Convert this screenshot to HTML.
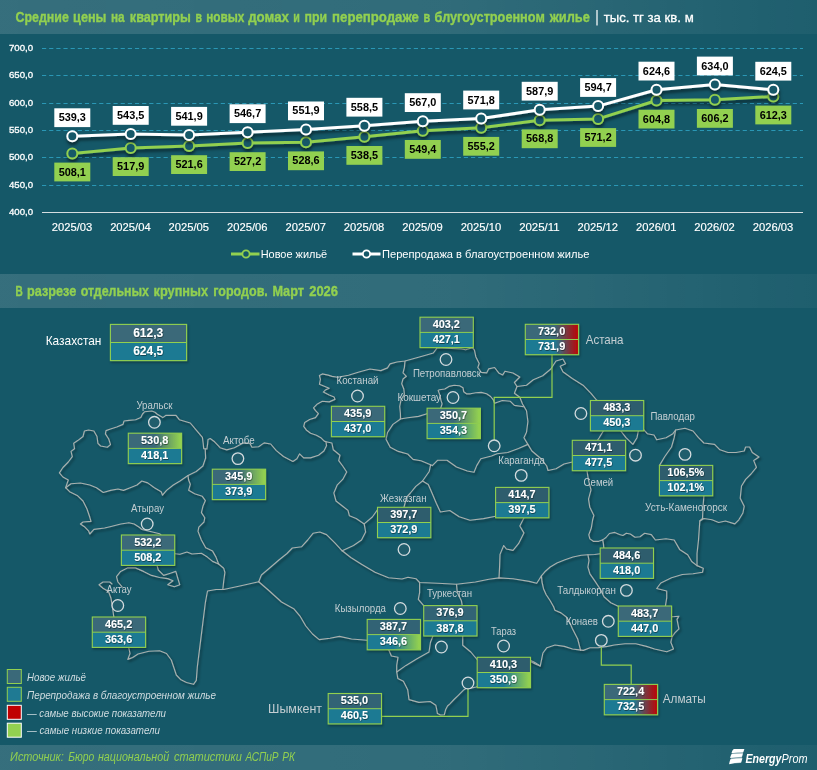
<!DOCTYPE html><html><head><meta charset="utf-8"><title>EnergyProm</title>
<style>html,body{margin:0;padding:0}body{width:817px;height:770px;overflow:hidden;background:#155868;font-family:"Liberation Sans",sans-serif}svg{display:block;will-change:transform}text{font-family:"Liberation Sans",sans-serif}</style>
</head><body>
<svg width="817" height="770" viewBox="0 0 817 770">
<defs>
<linearGradient id="hb" x1="0" x2="1" y1="0" y2="0"><stop offset="0" stop-color="#fff" stop-opacity="0.14"/><stop offset="0.55" stop-color="#fff" stop-opacity="0.12"/><stop offset="1" stop-color="#fff" stop-opacity="0.04"/></linearGradient>
<linearGradient id="gTopLD" x1="0" x2="1"><stop offset="0" stop-color="#3b6a7a"/><stop offset="1" stop-color="#2a5a6a"/></linearGradient>
<linearGradient id="gTopG" x1="0" x2="1"><stop offset="0" stop-color="#3a6979"/><stop offset="0.5" stop-color="#3a6979"/><stop offset="0.97" stop-color="#92d050"/></linearGradient>
<linearGradient id="gBotG" x1="0" x2="1"><stop offset="0" stop-color="#1f7a93"/><stop offset="0.5" stop-color="#1f7a93"/><stop offset="0.97" stop-color="#92d050"/></linearGradient>
<linearGradient id="gTopR" x1="0" x2="1"><stop offset="0" stop-color="#3a6979"/><stop offset="0.55" stop-color="#3a6979"/><stop offset="0.98" stop-color="#b80808"/></linearGradient>
<linearGradient id="gBotR" x1="0" x2="1"><stop offset="0" stop-color="#1f7a93"/><stop offset="0.55" stop-color="#1f7a93"/><stop offset="0.98" stop-color="#b80808"/></linearGradient>
<filter id="sh" x="-5%" y="-5%" width="110%" height="115%"><feDropShadow dx="1.5" dy="2" stdDeviation="1.2" flood-color="#000" flood-opacity="0.45"/></filter>
<filter id="shl" x="-5%" y="-20%" width="110%" height="150%"><feDropShadow dx="0.5" dy="3" stdDeviation="1.5" flood-color="#000" flood-opacity="0.5"/></filter>
<filter id="shb" x="-10%" y="-10%" width="125%" height="130%"><feDropShadow dx="1" dy="1.5" stdDeviation="1" flood-color="#000" flood-opacity="0.35"/></filter>
<filter id="tsh" x="-10%" y="-20%" width="120%" height="150%"><feDropShadow dx="0.5" dy="0.8" stdDeviation="0.5" flood-color="#000" flood-opacity="0.55"/></filter>
</defs>
<rect x="0" y="0" width="817" height="34" fill="url(#hb)"/>
<rect x="0" y="274" width="817" height="34" fill="url(#hb)"/>
<rect x="0" y="745" width="817" height="25" fill="url(#hb)"/>
<g font-size="14" font-weight="bold" font-style="normal" fill="#92d050" stroke="#92d050" stroke-width="0.35">
<text x="15.5" y="21.6" textLength="53.3" lengthAdjust="spacingAndGlyphs">Средние</text>
<text x="73.1" y="21.6" textLength="33.3" lengthAdjust="spacingAndGlyphs">цены</text>
<text x="110.9" y="21.6" textLength="13.7" lengthAdjust="spacingAndGlyphs">на</text>
<text x="129.8" y="21.6" textLength="61.1" lengthAdjust="spacingAndGlyphs">квартиры</text>
<text x="195.4" y="21.6" textLength="6.5" lengthAdjust="spacingAndGlyphs">в</text>
<text x="206.2" y="21.6" textLength="38.2" lengthAdjust="spacingAndGlyphs">новых</text>
<text x="248.2" y="21.6" textLength="40.8" lengthAdjust="spacingAndGlyphs">домах</text>
<text x="293.3" y="21.6" textLength="6.6" lengthAdjust="spacingAndGlyphs">и</text>
<text x="304.6" y="21.6" textLength="22.6" lengthAdjust="spacingAndGlyphs">при</text>
<text x="332.1" y="21.6" textLength="86.8" lengthAdjust="spacingAndGlyphs">перепродаже</text>
<text x="423.4" y="21.6" textLength="6.7" lengthAdjust="spacingAndGlyphs">в</text>
<text x="434.6" y="21.6" textLength="110.2" lengthAdjust="spacingAndGlyphs">блугоустроенном</text>
<text x="549.7" y="21.6" textLength="40.1" lengthAdjust="spacingAndGlyphs">жилье</text>
</g>
<rect x="596.3" y="10" width="1.4" height="15.5" fill="#e8eef0"/>
<text x="603.7" y="22" font-size="13.5" fill="#fff" stroke="#fff" stroke-width="0.3" textLength="90" lengthAdjust="spacingAndGlyphs">тыс. тг за кв. м</text>
<g font-size="14" font-weight="bold" font-style="normal" fill="#92d050" stroke="#92d050" stroke-width="0.35">
<text x="15.6" y="296.3" textLength="7.3" lengthAdjust="spacingAndGlyphs">В</text>
<text x="27.1" y="296.3" textLength="49.1" lengthAdjust="spacingAndGlyphs">разрезе</text>
<text x="80.7" y="296.3" textLength="68.3" lengthAdjust="spacingAndGlyphs">отдельных</text>
<text x="153.5" y="296.3" textLength="54.6" lengthAdjust="spacingAndGlyphs">крупных</text>
<text x="213.3" y="296.3" textLength="54.5" lengthAdjust="spacingAndGlyphs">городов.</text>
<text x="272.4" y="296.3" textLength="31.6" lengthAdjust="spacingAndGlyphs">Март</text>
<text x="309.2" y="296.3" textLength="28.8" lengthAdjust="spacingAndGlyphs">2026</text>
</g>
<line x1="42" x2="803" y1="48.5" y2="48.5" stroke="#2a97b5" stroke-width="1" stroke-dasharray="4.2 2.95"/>
<line x1="42" x2="803" y1="75.5" y2="75.5" stroke="#2a97b5" stroke-width="1" stroke-dasharray="4.2 2.95"/>
<line x1="42" x2="803" y1="103.5" y2="103.5" stroke="#2a97b5" stroke-width="1" stroke-dasharray="4.2 2.95"/>
<line x1="42" x2="803" y1="130.5" y2="130.5" stroke="#2a97b5" stroke-width="1" stroke-dasharray="4.2 2.95"/>
<line x1="42" x2="803" y1="157.5" y2="157.5" stroke="#2a97b5" stroke-width="1" stroke-dasharray="4.2 2.95"/>
<line x1="42" x2="803" y1="185.5" y2="185.5" stroke="#2a97b5" stroke-width="1" stroke-dasharray="4.2 2.95"/>
<line x1="42" x2="803" y1="212.5" y2="212.5" stroke="#d5dde0" stroke-width="1"/>
<text x="33.1" y="51.1" font-size="9.4" fill="#fff" stroke="#fff" stroke-width="0.3" text-anchor="end" textLength="24.2" lengthAdjust="spacingAndGlyphs">700,0</text>
<text x="33.1" y="78.1" font-size="9.4" fill="#fff" stroke="#fff" stroke-width="0.3" text-anchor="end" textLength="24.2" lengthAdjust="spacingAndGlyphs">650,0</text>
<text x="33.1" y="106.1" font-size="9.4" fill="#fff" stroke="#fff" stroke-width="0.3" text-anchor="end" textLength="24.2" lengthAdjust="spacingAndGlyphs">600,0</text>
<text x="33.1" y="133.1" font-size="9.4" fill="#fff" stroke="#fff" stroke-width="0.3" text-anchor="end" textLength="24.2" lengthAdjust="spacingAndGlyphs">550,0</text>
<text x="33.1" y="160.1" font-size="9.4" fill="#fff" stroke="#fff" stroke-width="0.3" text-anchor="end" textLength="24.2" lengthAdjust="spacingAndGlyphs">500,0</text>
<text x="33.1" y="188.1" font-size="9.4" fill="#fff" stroke="#fff" stroke-width="0.3" text-anchor="end" textLength="24.2" lengthAdjust="spacingAndGlyphs">450,0</text>
<text x="33.1" y="215.1" font-size="9.4" fill="#fff" stroke="#fff" stroke-width="0.3" text-anchor="end" textLength="24.2" lengthAdjust="spacingAndGlyphs">400,0</text>
<text x="72.0" y="231" font-size="10.7" fill="#fff" stroke="#fff" stroke-width="0.15" text-anchor="middle" textLength="40.5" lengthAdjust="spacingAndGlyphs">2025/03</text>
<text x="130.4" y="231" font-size="10.7" fill="#fff" stroke="#fff" stroke-width="0.15" text-anchor="middle" textLength="40.5" lengthAdjust="spacingAndGlyphs">2025/04</text>
<text x="188.8" y="231" font-size="10.7" fill="#fff" stroke="#fff" stroke-width="0.15" text-anchor="middle" textLength="40.5" lengthAdjust="spacingAndGlyphs">2025/05</text>
<text x="247.3" y="231" font-size="10.7" fill="#fff" stroke="#fff" stroke-width="0.15" text-anchor="middle" textLength="40.5" lengthAdjust="spacingAndGlyphs">2025/06</text>
<text x="305.7" y="231" font-size="10.7" fill="#fff" stroke="#fff" stroke-width="0.15" text-anchor="middle" textLength="40.5" lengthAdjust="spacingAndGlyphs">2025/07</text>
<text x="364.1" y="231" font-size="10.7" fill="#fff" stroke="#fff" stroke-width="0.15" text-anchor="middle" textLength="40.5" lengthAdjust="spacingAndGlyphs">2025/08</text>
<text x="422.5" y="231" font-size="10.7" fill="#fff" stroke="#fff" stroke-width="0.15" text-anchor="middle" textLength="40.5" lengthAdjust="spacingAndGlyphs">2025/09</text>
<text x="480.9" y="231" font-size="10.7" fill="#fff" stroke="#fff" stroke-width="0.15" text-anchor="middle" textLength="40.5" lengthAdjust="spacingAndGlyphs">2025/10</text>
<text x="539.4" y="231" font-size="10.7" fill="#fff" stroke="#fff" stroke-width="0.15" text-anchor="middle" textLength="40.5" lengthAdjust="spacingAndGlyphs">2025/11</text>
<text x="597.8" y="231" font-size="10.7" fill="#fff" stroke="#fff" stroke-width="0.15" text-anchor="middle" textLength="40.5" lengthAdjust="spacingAndGlyphs">2025/12</text>
<text x="656.2" y="231" font-size="10.7" fill="#fff" stroke="#fff" stroke-width="0.15" text-anchor="middle" textLength="40.5" lengthAdjust="spacingAndGlyphs">2026/01</text>
<text x="714.6" y="231" font-size="10.7" fill="#fff" stroke="#fff" stroke-width="0.15" text-anchor="middle" textLength="40.5" lengthAdjust="spacingAndGlyphs">2026/02</text>
<text x="773.0" y="231" font-size="10.7" fill="#fff" stroke="#fff" stroke-width="0.15" text-anchor="middle" textLength="40.5" lengthAdjust="spacingAndGlyphs">2026/03</text>
<g filter="url(#shl)">
<polyline points="72.3,153.4 130.7,148.0 189.1,146.0 247.6,143.0 306.0,142.2 364.4,136.8 422.8,130.8 481.2,127.7 539.7,120.2 598.1,118.9 656.5,100.5 714.9,99.8 773.3,96.4" fill="none" stroke="#92d050" stroke-width="3" stroke-linejoin="round" stroke-linecap="round"/>
<circle cx="72.3" cy="153.4" r="5" fill="#155868" stroke="#92d050" stroke-width="2"/>
<circle cx="130.7" cy="148.0" r="5" fill="#155868" stroke="#92d050" stroke-width="2"/>
<circle cx="189.1" cy="146.0" r="5" fill="#155868" stroke="#92d050" stroke-width="2"/>
<circle cx="247.6" cy="143.0" r="5" fill="#155868" stroke="#92d050" stroke-width="2"/>
<circle cx="306.0" cy="142.2" r="5" fill="#155868" stroke="#92d050" stroke-width="2"/>
<circle cx="364.4" cy="136.8" r="5" fill="#155868" stroke="#92d050" stroke-width="2"/>
<circle cx="422.8" cy="130.8" r="5" fill="#155868" stroke="#92d050" stroke-width="2"/>
<circle cx="481.2" cy="127.7" r="5" fill="#155868" stroke="#92d050" stroke-width="2"/>
<circle cx="539.7" cy="120.2" r="5" fill="#155868" stroke="#92d050" stroke-width="2"/>
<circle cx="598.1" cy="118.9" r="5" fill="#155868" stroke="#92d050" stroke-width="2"/>
<circle cx="656.5" cy="100.5" r="5" fill="#155868" stroke="#92d050" stroke-width="2"/>
<circle cx="714.9" cy="99.8" r="5" fill="#155868" stroke="#92d050" stroke-width="2"/>
<circle cx="773.3" cy="96.4" r="5" fill="#155868" stroke="#92d050" stroke-width="2"/>
</g>
<g filter="url(#shl)">
<polyline points="72.3,136.3 130.7,134.0 189.1,134.9 247.6,132.3 306.0,129.5 364.4,125.8 422.8,121.2 481.2,118.6 539.7,109.8 598.1,106.1 656.5,89.7 714.9,84.6 773.3,89.8" fill="none" stroke="#ffffff" stroke-width="3" stroke-linejoin="round" stroke-linecap="round"/>
<circle cx="72.3" cy="136.3" r="5" fill="#155868" stroke="#ffffff" stroke-width="2"/>
<circle cx="130.7" cy="134.0" r="5" fill="#155868" stroke="#ffffff" stroke-width="2"/>
<circle cx="189.1" cy="134.9" r="5" fill="#155868" stroke="#ffffff" stroke-width="2"/>
<circle cx="247.6" cy="132.3" r="5" fill="#155868" stroke="#ffffff" stroke-width="2"/>
<circle cx="306.0" cy="129.5" r="5" fill="#155868" stroke="#ffffff" stroke-width="2"/>
<circle cx="364.4" cy="125.8" r="5" fill="#155868" stroke="#ffffff" stroke-width="2"/>
<circle cx="422.8" cy="121.2" r="5" fill="#155868" stroke="#ffffff" stroke-width="2"/>
<circle cx="481.2" cy="118.6" r="5" fill="#155868" stroke="#ffffff" stroke-width="2"/>
<circle cx="539.7" cy="109.8" r="5" fill="#155868" stroke="#ffffff" stroke-width="2"/>
<circle cx="598.1" cy="106.1" r="5" fill="#155868" stroke="#ffffff" stroke-width="2"/>
<circle cx="656.5" cy="89.7" r="5" fill="#155868" stroke="#ffffff" stroke-width="2"/>
<circle cx="714.9" cy="84.6" r="5" fill="#155868" stroke="#ffffff" stroke-width="2"/>
<circle cx="773.3" cy="89.8" r="5" fill="#155868" stroke="#ffffff" stroke-width="2"/>
</g>
<rect x="54.3" y="108.3" width="36" height="18.8" fill="#ffffff"/>
<text x="72.3" y="121.2" font-size="10.9" font-weight="bold" fill="#000" text-anchor="middle">539,3</text>
<rect x="112.7" y="106.0" width="36" height="18.8" fill="#ffffff"/>
<text x="130.7" y="118.9" font-size="10.9" font-weight="bold" fill="#000" text-anchor="middle">543,5</text>
<rect x="171.1" y="106.9" width="36" height="18.8" fill="#ffffff"/>
<text x="189.1" y="119.8" font-size="10.9" font-weight="bold" fill="#000" text-anchor="middle">541,9</text>
<rect x="229.6" y="104.3" width="36" height="18.8" fill="#ffffff"/>
<text x="247.6" y="117.2" font-size="10.9" font-weight="bold" fill="#000" text-anchor="middle">546,7</text>
<rect x="288.0" y="101.5" width="36" height="18.8" fill="#ffffff"/>
<text x="306.0" y="114.4" font-size="10.9" font-weight="bold" fill="#000" text-anchor="middle">551,9</text>
<rect x="346.4" y="97.8" width="36" height="18.8" fill="#ffffff"/>
<text x="364.4" y="110.7" font-size="10.9" font-weight="bold" fill="#000" text-anchor="middle">558,5</text>
<rect x="404.8" y="93.2" width="36" height="18.8" fill="#ffffff"/>
<text x="422.8" y="106.1" font-size="10.9" font-weight="bold" fill="#000" text-anchor="middle">567,0</text>
<rect x="463.2" y="90.6" width="36" height="18.8" fill="#ffffff"/>
<text x="481.2" y="103.5" font-size="10.9" font-weight="bold" fill="#000" text-anchor="middle">571,8</text>
<rect x="521.7" y="81.8" width="36" height="18.8" fill="#ffffff"/>
<text x="539.7" y="94.7" font-size="10.9" font-weight="bold" fill="#000" text-anchor="middle">587,9</text>
<rect x="580.1" y="78.1" width="36" height="18.8" fill="#ffffff"/>
<text x="598.1" y="91.0" font-size="10.9" font-weight="bold" fill="#000" text-anchor="middle">594,7</text>
<rect x="638.5" y="61.7" width="36" height="18.8" fill="#ffffff"/>
<text x="656.5" y="74.6" font-size="10.9" font-weight="bold" fill="#000" text-anchor="middle">624,6</text>
<rect x="696.9" y="56.6" width="36" height="18.8" fill="#ffffff"/>
<text x="714.9" y="69.5" font-size="10.9" font-weight="bold" fill="#000" text-anchor="middle">634,0</text>
<rect x="755.3" y="61.8" width="36" height="18.8" fill="#ffffff"/>
<text x="773.3" y="74.7" font-size="10.9" font-weight="bold" fill="#000" text-anchor="middle">624,5</text>
<rect x="54.3" y="162.6" width="36" height="18.8" fill="#92d050"/>
<text x="72.3" y="175.5" font-size="10.9" font-weight="bold" fill="#000" text-anchor="middle">508,1</text>
<rect x="112.7" y="157.2" width="36" height="18.8" fill="#92d050"/>
<text x="130.7" y="170.1" font-size="10.9" font-weight="bold" fill="#000" text-anchor="middle">517,9</text>
<rect x="171.1" y="155.2" width="36" height="18.8" fill="#92d050"/>
<text x="189.1" y="168.1" font-size="10.9" font-weight="bold" fill="#000" text-anchor="middle">521,6</text>
<rect x="229.6" y="152.2" width="36" height="18.8" fill="#92d050"/>
<text x="247.6" y="165.1" font-size="10.9" font-weight="bold" fill="#000" text-anchor="middle">527,2</text>
<rect x="288.0" y="151.4" width="36" height="18.8" fill="#92d050"/>
<text x="306.0" y="164.3" font-size="10.9" font-weight="bold" fill="#000" text-anchor="middle">528,6</text>
<rect x="346.4" y="146.0" width="36" height="18.8" fill="#92d050"/>
<text x="364.4" y="158.9" font-size="10.9" font-weight="bold" fill="#000" text-anchor="middle">538,5</text>
<rect x="404.8" y="140.0" width="36" height="18.8" fill="#92d050"/>
<text x="422.8" y="152.9" font-size="10.9" font-weight="bold" fill="#000" text-anchor="middle">549,4</text>
<rect x="463.2" y="136.9" width="36" height="18.8" fill="#92d050"/>
<text x="481.2" y="149.8" font-size="10.9" font-weight="bold" fill="#000" text-anchor="middle">555,2</text>
<rect x="521.7" y="129.4" width="36" height="18.8" fill="#92d050"/>
<text x="539.7" y="142.3" font-size="10.9" font-weight="bold" fill="#000" text-anchor="middle">568,8</text>
<rect x="580.1" y="128.1" width="36" height="18.8" fill="#92d050"/>
<text x="598.1" y="141.0" font-size="10.9" font-weight="bold" fill="#000" text-anchor="middle">571,2</text>
<rect x="638.5" y="109.7" width="36" height="18.8" fill="#92d050"/>
<text x="656.5" y="122.6" font-size="10.9" font-weight="bold" fill="#000" text-anchor="middle">604,8</text>
<rect x="696.9" y="109.0" width="36" height="18.8" fill="#92d050"/>
<text x="714.9" y="121.9" font-size="10.9" font-weight="bold" fill="#000" text-anchor="middle">606,2</text>
<rect x="755.3" y="105.6" width="36" height="18.8" fill="#92d050"/>
<text x="773.3" y="118.5" font-size="10.9" font-weight="bold" fill="#000" text-anchor="middle">612,3</text>
<line x1="231" x2="259.5" y1="254" y2="254" stroke="#92d050" stroke-width="3"/><circle cx="246" cy="254" r="3.6" fill="#155868" stroke="#92d050" stroke-width="1.8"/>
<text x="260.7" y="258" font-size="10.8" fill="#fff" textLength="66.5" lengthAdjust="spacingAndGlyphs">Новое жильё</text>
<line x1="352.5" x2="380.5" y1="254" y2="254" stroke="#fff" stroke-width="3"/><circle cx="366.5" cy="254" r="3.6" fill="#155868" stroke="#fff" stroke-width="1.8"/>
<text x="382" y="258" font-size="10.8" fill="#fff" textLength="207.5" lengthAdjust="spacingAndGlyphs">Перепродажа в благоустроенном жилье</text>
<g filter="url(#sh)" fill="none" stroke="#a9b1af" stroke-width="1.15" stroke-linejoin="round" stroke-linecap="round">
<polyline points="65.6,487.7 67.0,483.7 68.3,480.0 62.9,477.0 59.4,472.9 62.9,467.5 68.3,462.0 72.3,456.7 71.0,451.4 74.5,448.7 73.7,443.3 77.7,440.6 83.0,436.5 84.4,431.0 88.5,430.0 93.9,431.0 97.0,436.5 97.9,443.3 100.6,446.0 107.3,447.3 110.5,444.6 108.7,439.0 105.4,433.9 106.0,430.6 110.5,429.0 116.7,427.0 123.0,424.4 124.0,421.0 128.9,420.4 135.6,419.8 140.8,417.5 142.5,414.0 144.5,411.8 151.8,411.0 155.0,412.2 157.3,414.2 162.8,417.6 166.0,415.3 176.0,415.3 179.3,419.7 190.3,423.0 196.9,430.8 202.4,437.4 203.2,443.5 203.7,448.6 206.9,449.0 207.6,444.0 208.0,439.6 210.2,438.5 214.6,441.8 220.1,447.7 226.7,449.9 234.4,447.7 243.2,442.9 249.8,443.3 252.0,447.3 258.6,446.8 264.1,442.9 270.7,444.0 276.3,450.6 283.5,456.5 292.9,461.4 296.9,458.7 299.6,453.8 303.7,457.9 310.4,457.9 318.5,455.2 323.9,451.0 326.5,445.8 326.0,441.7 324.3,441.1 321.3,438.1 316.4,435.2 310.6,433.2 306.6,430.3 303.7,426.4 304.7,422.5 309.6,419.5 315.5,417.6 318.4,413.6 315.5,410.7 313.5,407.8 317.4,403.9 322.3,401.3 329.2,401.9 335.0,399.4 334.1,397.0 329.2,395.0 323.3,392.1 325.3,390.1 329.2,388.2 324.3,386.2 319.4,384.3 320.4,379.4 319.4,375.5 322.3,373.9 328.2,375.1 332.1,376.4 337.7,377.2 348.5,375.3 359.0,372.0 370.0,369.0 380.8,370.6 387.5,367.9 390.0,363.9 396.9,362.0 405.0,361.0 415.8,358.0 426.5,355.0 433.3,353.0 437.3,347.7 461.5,349.0 465.6,349.8 472.3,347.7 474.4,350.0 475.8,356.7 479.2,363.5 477.8,367.5 481.2,372.4 486.6,372.9 488.6,368.9 494.6,367.5 498.7,372.9 502.7,374.9 505.0,371.2 513.0,373.0 519.8,377.0 514.4,382.5 517.0,386.5 526.5,385.2 533.3,379.8 542.7,375.8 550.8,369.0 556.0,361.0 562.9,359.0 565.6,363.7 560.2,366.3 562.9,371.7 572.3,378.5 583.0,385.2 591.0,393.3 596.5,400.0 643.7,429.6 647.3,433.7 654.0,435.0 656.7,439.8 666.0,437.7 672.9,433.7 675.6,430.0 685.0,428.3 693.0,431.0 698.5,437.7 703.9,443.0 714.6,444.4 720.0,449.8 728.0,452.5 736.0,452.5 744.2,451.0 745.6,447.0 749.6,447.0 752.3,452.5 759.0,457.0 753.7,460.6 756.4,467.3 751.0,474.0 745.6,479.4 741.5,486.0 740.2,498.3 744.2,506.3 742.9,513.0 738.8,519.8 734.8,523.9 725.4,521.0 718.7,522.5 712.0,519.8 703.9,518.5 699.8,521.0 698.5,540.0 697.0,553.5 697.0,565.6 703.3,568.3 702.5,572.3 693.0,573.7 682.3,574.5 671.5,577.7 660.8,583.0 656.7,588.5 666.7,591.0 666.7,597.9 665.4,606.0 672.0,616.7 678.9,616.2 677.0,619.4 678.9,628.9 674.8,632.9 672.0,636.9 670.8,642.3 673.5,649.0 666.7,651.7 654.6,649.0 646.5,646.4 635.8,643.7 625.0,643.7 614.2,645.0 607.5,646.4 598.0,647.7 590.0,647.7 583.3,650.4 579.2,649.9 572.5,649.0 564.4,646.4 555.0,645.0 546.9,647.7 542.9,653.0 541.5,659.8 540.2,666.0 534.8,662.5 530.8,660.6 500.0,680.0 476.0,687.0 470.8,688.3 468.2,686.9 464.0,689.7 458.3,695.3 454.0,699.5 449.9,703.8 447.5,706.0 445.7,709.4 444.3,714.8 440.5,715.0 437.4,713.6 436.8,710.0 435.8,705.2 430.2,701.5 418.9,702.4 409.0,699.6 407.7,689.7 403.4,681.3 397.8,678.4 396.7,672.0 396.7,665.4 398.0,657.3 391.4,656.0 388.7,649.8 367.0,640.2 351.5,639.0 339.4,636.4 330.0,638.3 319.2,639.6 312.5,634.0 305.8,626.0 300.4,616.7 293.7,608.7 281.5,602.0 268.0,589.8 258.7,581.7"/>
<polyline points="65.6,487.7 69.6,491.7 77.7,495.8 83.0,501.0 87.0,509.0 89.8,517.3 91.0,521.4 83.0,522.0 80.4,524.0 84.4,526.7 88.5,530.8 89.8,534.0 93.9,529.4 104.6,528.0 110.0,526.7 120.8,524.0 128.9,522.7 134.2,524.0 139.6,527.5 142.0,529.5 151.5,531.8 159.6,533.7 162.3,536.3 157.0,565.4 158.3,570.0 163.7,575.4 170.4,573.2 175.8,571.4 177.7,578.0 179.8,584.8 174.4,586.7 167.7,584.8 173.0,580.8 167.7,578.6 159.6,577.5 151.5,575.4 143.5,571.4 135.4,567.9 127.3,567.9 120.6,571.4 116.5,576.7 117.9,582.0 121.9,586.7"/>
<polyline points="112.0,584.0 109.8,582.0 103.0,582.0 99.0,584.8 103.0,588.3 108.5,591.5 111.0,598.3 112.5,607.7 113.8,617.0 128.7,647.5 130.0,653.5 127.8,659.4 132.7,657.5 138.0,654.0 148.9,651.3 159.6,650.8 166.5,653.5 171.3,660.0 174.0,668.0 176.3,675.0 181.0,679.8 186.5,682.5 193.5,684.3 196.3,680.4 197.3,667.0 200.0,645.4 202.7,623.9 205.4,602.3 207.5,591.0 216.0,589.5 223.7,589.5 241.0,585.8 258.7,581.7"/>
<polyline points="65.6,487.7 71.0,483.7 80.4,483.0 89.8,485.0 96.5,487.7 103.3,492.5 110.5,490.4 118.0,489.0 123.5,490.4 130.2,487.7 137.0,485.0 141.8,481.0 147.7,482.9 154.4,487.7 161.2,491.7 162.5,495.2 166.5,490.4 173.3,485.0 180.0,481.0 188.0,475.6"/>
<polyline points="205.2,449.0 205.6,458.0 202.9,466.0 196.2,471.5 188.0,475.6"/>
<polyline points="188.0,475.6 188.6,480.0 190.3,484.3 188.6,490.3 194.6,493.7 202.3,496.3 205.4,500.6 203.1,505.7 201.4,512.6 204.8,517.7 204.0,522.0 198.8,527.1 198.0,531.4 201.4,540.0 205.7,547.7 212.6,551.1 216.0,557.1 218.6,564.0 223.7,568.2 224.9,572.5 223.7,581.1 222.8,589.5"/>
<polyline points="175.0,553.8 180.0,554.3 186.9,552.0 192.0,554.0 201.4,553.3 207.4,557.1 212.6,561.4 218.6,564.0"/>
<polyline points="258.7,581.7 261.4,575.0 270.8,567.0 278.9,560.0 287.0,553.5 292.3,548.0 301.7,546.7 307.7,540.0 313.0,533.3 319.8,532.0 326.5,534.6 334.6,542.7 342.2,550.8"/>
<polyline points="326.0,441.7 331.9,443.0 333.3,449.8 340.0,455.2 338.7,460.6 342.7,466.0 346.7,472.0 342.7,479.4 337.3,484.8 333.8,492.9 336.0,501.0 342.7,506.3 348.0,510.4 349.4,515.8 356.2,518.5 364.2,523.9 365.6,532.0 361.5,540.0 353.5,545.4 342.2,550.8"/>
<polyline points="364.2,523.9 372.3,517.0 379.0,507.7"/>
<polyline points="342.2,550.8 350.8,557.5 361.5,564.2 375.0,572.3 388.5,577.7 402.0,579.0 408.0,577.3 416.0,578.7 419.6,582.5 437.7,583.2 456.5,584.3 475.4,582.0 488.9,579.2 499.0,577.9 513.0,578.7 529.2,581.4 536.7,583.3 538.8,580.0 541.4,575.9 544.8,571.8 550.2,567.0 556.9,563.0 565.0,559.7 573.0,557.0 581.2,555.3 587.9,554.7 594.6,554.5 600.0,553.7"/>
<polyline points="405.0,361.0 404.4,367.5 403.0,372.9 406.4,376.3 403.0,379.0 401.7,383.7 403.8,389.0 404.4,394.4 401.0,399.8 399.7,406.5 400.4,413.3 400.5,419.0 392.9,424.4 387.5,432.5 386.0,439.2 390.2,447.3 398.3,451.4 407.7,454.0 413.0,459.4 421.0,460.8 430.6,464.8 432.3,465.6 437.7,460.2 447.0,460.2 456.5,467.0 467.3,471.0 474.0,472.3 476.7,465.6 480.8,458.8 491.5,456.0 497.0,453.8 507.7,452.5 518.5,448.5 527.9,444.4"/>
<polyline points="400.0,419.0 407.7,417.7 418.5,416.4 427.0,413.7"/>
<polyline points="440.8,407.9 442.1,403.9 440.8,399.8 440.1,395.8 438.1,390.4 439.4,389.7 444.8,389.0 448.9,386.4 454.2,385.3 459.6,385.7 463.0,387.7 463.7,391.7 466.4,393.8 470.4,393.8 475.8,392.8 481.2,392.4 486.6,393.8 490.6,396.5 493.3,399.8 494.6,403.2 502.3,400.5 510.4,401.3 514.4,405.4 523.9,406.7"/>
<polyline points="517.0,386.5 514.4,393.3 519.8,397.3 522.5,404.0 526.5,410.8 527.9,421.5 526.5,432.3 523.9,437.7 527.9,444.4 531.9,451.0 541.4,459.0 546.7,466.0 548.0,470.5 556.0,468.7 564.0,464.0 572.3,462.0"/>
<polyline points="430.6,464.8 429.2,471.5 422.5,481.0 415.8,486.4 410.4,493.0 406.7,497.0 404.0,507.0"/>
<polyline points="422.5,481.0 428.3,484.4 432.3,493.8 436.3,503.3 440.4,512.0 449.8,510.5 459.2,516.7 470.0,520.2 483.5,518.6 495.6,516.2"/>
<polyline points="523.9,518.0 519.8,526.0 523.9,532.9 518.5,543.7 513.0,550.4 506.4,549.0 503.7,545.5 500.0,554.4 499.6,566.5 499.0,577.9"/>
<polyline points="603.3,431.0 599.2,437.7 597.0,441.0"/>
<polyline points="620.8,431.0 626.0,437.7 632.9,444.4 637.0,437.7 638.3,431.0"/>
<polyline points="587.0,471.0 588.5,480.4 591.0,489.8 588.5,499.2 589.8,507.3 593.9,515.4 592.6,520.0 591.3,528.0 588.8,534.8 589.9,538.9 593.3,541.3 598.7,541.3 602.7,539.9 606.0,537.5 609.4,533.5 614.8,532.4 619.5,534.5 622.9,535.5 626.3,533.2 630.3,534.0 635.0,537.2 640.0,536.8 644.6,533.3 651.3,534.6 655.4,540.0 666.0,538.7 674.2,540.0 679.6,549.4 687.7,554.8 691.7,561.5 697.0,565.6"/>
<polyline points="602.7,539.9 603.4,543.6 603.8,548.3"/>
<polyline points="675.6,430.0 674.2,437.7 671.5,447.0 664.8,456.5 659.5,465.4"/>
<polyline points="703.9,495.6 703.0,507.0 702.5,518.5 699.8,521.0"/>
<polyline points="541.4,575.9 542.0,582.0 543.5,588.7 546.2,594.7 550.2,600.8 553.6,606.8 554.9,610.2 561.0,612.9 566.4,617.0 569.5,622.0 572.3,628.5 577.7,639.0 580.6,650.4"/>
<polyline points="587.9,554.7 589.0,560.4 587.9,567.0 589.9,573.9 594.6,580.6 600.0,588.7 604.0,596.7 610.8,602.8 618.2,606.2"/>
<polyline points="419.6,582.5 419.6,592.7 418.3,599.4 423.7,605.6"/>
<polyline points="433.0,635.8 430.4,642.5 429.0,652.0 417.0,658.7 406.0,665.4 396.7,672.0"/>
<polyline points="456.5,584.3 457.3,592.7 461.4,600.8 462.2,605.6"/>
<polyline points="462.7,635.8 462.7,645.2 470.8,652.0 477.5,660.0"/>
<polyline points="530.6,661.4 535.4,664.0 540.2,666.0"/>
</g>
<g fill="none" stroke="#92d050" stroke-width="1.2">
<polyline points="552,354.7 552,397.3 494.2,397.3 494.2,440"/>
<polyline points="601.3,646.5 601.3,665.2 631.2,665.2 631.2,684.6"/>
<polyline points="468,689 468,716.3 381.5,716.3"/>
</g>
<circle cx="154.4" cy="422.3" r="5.8" fill="#205d6c" stroke="#d3dbde" stroke-width="1.3"/>
<circle cx="237.9" cy="458.6" r="5.8" fill="#205d6c" stroke="#d3dbde" stroke-width="1.3"/>
<circle cx="147.2" cy="524.0" r="5.8" fill="#205d6c" stroke="#d3dbde" stroke-width="1.3"/>
<circle cx="117.8" cy="605.5" r="5.8" fill="#205d6c" stroke="#d3dbde" stroke-width="1.3"/>
<circle cx="357.5" cy="396.0" r="5.8" fill="#205d6c" stroke="#d3dbde" stroke-width="1.3"/>
<circle cx="446.0" cy="359.5" r="5.8" fill="#205d6c" stroke="#d3dbde" stroke-width="1.3"/>
<circle cx="453.0" cy="397.5" r="5.8" fill="#205d6c" stroke="#d3dbde" stroke-width="1.3"/>
<circle cx="494.2" cy="445.8" r="5.8" fill="#205d6c" stroke="#d3dbde" stroke-width="1.3"/>
<circle cx="580.9" cy="413.5" r="5.8" fill="#205d6c" stroke="#d3dbde" stroke-width="1.3"/>
<circle cx="635.5" cy="455.2" r="5.8" fill="#205d6c" stroke="#d3dbde" stroke-width="1.3"/>
<circle cx="685.0" cy="454.4" r="5.8" fill="#205d6c" stroke="#d3dbde" stroke-width="1.3"/>
<circle cx="521.2" cy="475.4" r="5.8" fill="#205d6c" stroke="#d3dbde" stroke-width="1.3"/>
<circle cx="404.0" cy="549.5" r="5.8" fill="#205d6c" stroke="#d3dbde" stroke-width="1.3"/>
<circle cx="400.3" cy="608.5" r="5.8" fill="#205d6c" stroke="#d3dbde" stroke-width="1.3"/>
<circle cx="441.4" cy="647.0" r="5.8" fill="#205d6c" stroke="#d3dbde" stroke-width="1.3"/>
<circle cx="503.6" cy="646.0" r="5.8" fill="#205d6c" stroke="#d3dbde" stroke-width="1.3"/>
<circle cx="468.0" cy="683.0" r="5.8" fill="#205d6c" stroke="#d3dbde" stroke-width="1.3"/>
<circle cx="626.4" cy="590.4" r="5.8" fill="#205d6c" stroke="#d3dbde" stroke-width="1.3"/>
<circle cx="608.3" cy="621.3" r="5.8" fill="#205d6c" stroke="#d3dbde" stroke-width="1.3"/>
<circle cx="601.3" cy="640.4" r="5.8" fill="#205d6c" stroke="#d3dbde" stroke-width="1.3"/>
<text x="136.4" y="408.5" font-size="11" fill="#c4ced2" textLength="36.2" lengthAdjust="spacingAndGlyphs">Уральск</text>
<text x="223.0" y="443.5" font-size="11" fill="#c4ced2" textLength="31.6" lengthAdjust="spacingAndGlyphs">Актобе</text>
<text x="131.0" y="511.6" font-size="11" fill="#c4ced2" textLength="33.0" lengthAdjust="spacingAndGlyphs">Атырау</text>
<text x="106.5" y="592.5" font-size="11" fill="#c4ced2" textLength="25.0" lengthAdjust="spacingAndGlyphs">Актау</text>
<text x="336.5" y="384.0" font-size="11" fill="#c4ced2" textLength="42.0" lengthAdjust="spacingAndGlyphs">Костанай</text>
<text x="412.9" y="377.0" font-size="11" fill="#c4ced2" textLength="68.0" lengthAdjust="spacingAndGlyphs">Петропавловск</text>
<text x="397.5" y="400.5" font-size="11" fill="#c4ced2" textLength="43.5" lengthAdjust="spacingAndGlyphs">Кокшетау</text>
<text x="498.3" y="463.5" font-size="11" fill="#c4ced2" textLength="46.6" lengthAdjust="spacingAndGlyphs">Караганда</text>
<text x="380.0" y="501.6" font-size="11" fill="#c4ced2" textLength="46.5" lengthAdjust="spacingAndGlyphs">Жезказган</text>
<text x="650.4" y="419.5" font-size="11" fill="#c4ced2" textLength="44.5" lengthAdjust="spacingAndGlyphs">Павлодар</text>
<text x="583.6" y="485.5" font-size="11" fill="#c4ced2" textLength="29.6" lengthAdjust="spacingAndGlyphs">Семей</text>
<text x="645.0" y="510.5" font-size="11" fill="#c4ced2" textLength="82.0" lengthAdjust="spacingAndGlyphs">Усть-Каменогорск</text>
<text x="557.2" y="593.5" font-size="11" fill="#c4ced2" textLength="58.7" lengthAdjust="spacingAndGlyphs">Талдыкорган</text>
<text x="565.8" y="624.5" font-size="11" fill="#c4ced2" textLength="32.2" lengthAdjust="spacingAndGlyphs">Конаев</text>
<text x="427.0" y="597.0" font-size="11" fill="#c4ced2" textLength="45.0" lengthAdjust="spacingAndGlyphs">Туркестан</text>
<text x="334.8" y="611.5" font-size="11" fill="#c4ced2" textLength="51.2" lengthAdjust="spacingAndGlyphs">Кызылорда</text>
<text x="491.0" y="634.5" font-size="11" fill="#c4ced2" textLength="25.0" lengthAdjust="spacingAndGlyphs">Тараз</text>
<text x="45.7" y="344.9" font-size="12.6" fill="#fff" textLength="55.7" lengthAdjust="spacingAndGlyphs">Казахстан</text>
<text x="585.8" y="343.8" font-size="13" fill="#c4ced2" textLength="37.7" lengthAdjust="spacingAndGlyphs">Астана</text>
<text x="662.7" y="702.8" font-size="13" fill="#c4ced2" textLength="43.0" lengthAdjust="spacingAndGlyphs">Алматы</text>
<text x="268.0" y="713.0" font-size="13" fill="#c4ced2" textLength="54.0" lengthAdjust="spacingAndGlyphs">Шымкент</text>
<g filter="url(#shb)">
<rect x="110.4" y="324.4" width="76.2" height="18.1" fill="#3a6979"/>
<rect x="110.4" y="342.5" width="76.2" height="18.1" fill="#1f7a93"/>
<rect x="110.4" y="324.4" width="76.2" height="36.2" fill="none" stroke="#92d050" stroke-width="1.1"/>
<line x1="110.4" x2="186.6" y1="342.5" y2="342.5" stroke="#92d050" stroke-width="1"/>
</g>
<g filter="url(#tsh)" font-size="12" font-weight="bold" fill="#fff" text-anchor="middle">
<text x="148.2" y="337.0">612,3</text>
<text x="148.2" y="355.1">624,5</text>
</g>
<g filter="url(#shb)">
<rect x="128.3" y="433.2" width="53.3" height="15.2" fill="url(#gTopG)"/>
<rect x="128.3" y="448.4" width="53.3" height="15.2" fill="#1f7a93"/>
<rect x="128.3" y="433.2" width="53.3" height="30.4" fill="none" stroke="#92d050" stroke-width="1.1"/>
<line x1="128.3" x2="181.6" y1="448.4" y2="448.4" stroke="#92d050" stroke-width="1"/>
</g>
<g filter="url(#tsh)" font-size="10.9" font-weight="bold" fill="#fff" text-anchor="middle">
<text x="154.7" y="443.9">530,8</text>
<text x="154.7" y="459.1">418,1</text>
</g>
<g filter="url(#shb)">
<rect x="212.3" y="469.2" width="53.3" height="15.2" fill="url(#gTopG)"/>
<rect x="212.3" y="484.4" width="53.3" height="15.2" fill="#1f7a93"/>
<rect x="212.3" y="469.2" width="53.3" height="30.4" fill="none" stroke="#92d050" stroke-width="1.1"/>
<line x1="212.3" x2="265.6" y1="484.4" y2="484.4" stroke="#92d050" stroke-width="1"/>
</g>
<g filter="url(#tsh)" font-size="10.9" font-weight="bold" fill="#fff" text-anchor="middle">
<text x="238.7" y="479.9">345,9</text>
<text x="238.7" y="495.1">373,9</text>
</g>
<g filter="url(#shb)">
<rect x="121.4" y="535.0" width="53.3" height="15.2" fill="#3a6979"/>
<rect x="121.4" y="550.2" width="53.3" height="15.2" fill="#1f7a93"/>
<rect x="121.4" y="535.0" width="53.3" height="30.4" fill="none" stroke="#92d050" stroke-width="1.1"/>
<line x1="121.4" x2="174.7" y1="550.2" y2="550.2" stroke="#92d050" stroke-width="1"/>
</g>
<g filter="url(#tsh)" font-size="10.9" font-weight="bold" fill="#fff" text-anchor="middle">
<text x="147.8" y="545.7">532,2</text>
<text x="147.8" y="560.9">508,2</text>
</g>
<g filter="url(#shb)">
<rect x="92.3" y="617.0" width="53.3" height="15.2" fill="#3a6979"/>
<rect x="92.3" y="632.2" width="53.3" height="15.2" fill="#1f7a93"/>
<rect x="92.3" y="617.0" width="53.3" height="30.4" fill="none" stroke="#92d050" stroke-width="1.1"/>
<line x1="92.3" x2="145.6" y1="632.2" y2="632.2" stroke="#92d050" stroke-width="1"/>
</g>
<g filter="url(#tsh)" font-size="10.9" font-weight="bold" fill="#fff" text-anchor="middle">
<text x="118.6" y="627.7">465,2</text>
<text x="118.6" y="642.9">363,6</text>
</g>
<g filter="url(#shb)">
<rect x="331.4" y="406.3" width="53.3" height="15.2" fill="#3a6979"/>
<rect x="331.4" y="421.5" width="53.3" height="15.2" fill="#1f7a93"/>
<rect x="331.4" y="406.3" width="53.3" height="30.4" fill="none" stroke="#92d050" stroke-width="1.1"/>
<line x1="331.4" x2="384.7" y1="421.5" y2="421.5" stroke="#92d050" stroke-width="1"/>
</g>
<g filter="url(#tsh)" font-size="10.9" font-weight="bold" fill="#fff" text-anchor="middle">
<text x="357.7" y="417.0">435,9</text>
<text x="357.7" y="432.2">437,0</text>
</g>
<g filter="url(#shb)">
<rect x="420.0" y="317.2" width="53.3" height="15.2" fill="#3a6979"/>
<rect x="420.0" y="332.4" width="53.3" height="15.2" fill="#1f7a93"/>
<rect x="420.0" y="317.2" width="53.3" height="30.4" fill="none" stroke="#92d050" stroke-width="1.1"/>
<line x1="420.0" x2="473.3" y1="332.4" y2="332.4" stroke="#92d050" stroke-width="1"/>
</g>
<g filter="url(#tsh)" font-size="10.9" font-weight="bold" fill="#fff" text-anchor="middle">
<text x="446.3" y="327.9">403,2</text>
<text x="446.3" y="343.1">427,1</text>
</g>
<g filter="url(#shb)">
<rect x="427.1" y="408.2" width="53.3" height="15.2" fill="url(#gTopG)"/>
<rect x="427.1" y="423.4" width="53.3" height="15.2" fill="url(#gBotG)"/>
<rect x="427.1" y="408.2" width="53.3" height="30.4" fill="none" stroke="#92d050" stroke-width="1.1"/>
<line x1="427.1" x2="480.4" y1="423.4" y2="423.4" stroke="#92d050" stroke-width="1"/>
</g>
<g filter="url(#tsh)" font-size="10.9" font-weight="bold" fill="#fff" text-anchor="middle">
<text x="453.4" y="418.9">350,7</text>
<text x="453.4" y="434.1">354,3</text>
</g>
<g filter="url(#shb)">
<rect x="525.3" y="324.3" width="53.3" height="15.2" fill="url(#gTopR)"/>
<rect x="525.3" y="339.5" width="53.3" height="15.2" fill="url(#gBotR)"/>
<rect x="525.3" y="324.3" width="53.3" height="30.4" fill="none" stroke="#92d050" stroke-width="1.1"/>
<line x1="525.3" x2="578.6" y1="339.5" y2="339.5" stroke="#92d050" stroke-width="1"/>
</g>
<g filter="url(#tsh)" font-size="10.9" font-weight="bold" fill="#fff" text-anchor="middle">
<text x="551.6" y="335.0">732,0</text>
<text x="551.6" y="350.2">731,9</text>
</g>
<g filter="url(#shb)">
<rect x="590.4" y="400.5" width="53.3" height="15.2" fill="#2d5d6d"/>
<rect x="590.4" y="415.7" width="53.3" height="15.2" fill="#1f7a93"/>
<rect x="590.4" y="400.5" width="53.3" height="30.4" fill="none" stroke="#92d050" stroke-width="1.1"/>
<line x1="590.4" x2="643.7" y1="415.7" y2="415.7" stroke="#92d050" stroke-width="1"/>
</g>
<g filter="url(#tsh)" font-size="10.9" font-weight="bold" fill="#fff" text-anchor="middle">
<text x="616.8" y="411.2">483,3</text>
<text x="616.8" y="426.4">450,3</text>
</g>
<g filter="url(#shb)">
<rect x="572.3" y="440.3" width="53.3" height="15.2" fill="#2d5d6d"/>
<rect x="572.3" y="455.5" width="53.3" height="15.2" fill="#1f7a93"/>
<rect x="572.3" y="440.3" width="53.3" height="30.4" fill="none" stroke="#92d050" stroke-width="1.1"/>
<line x1="572.3" x2="625.6" y1="455.5" y2="455.5" stroke="#92d050" stroke-width="1"/>
</g>
<g filter="url(#tsh)" font-size="10.9" font-weight="bold" fill="#fff" text-anchor="middle">
<text x="598.6" y="451.0">471,1</text>
<text x="598.6" y="466.2">477,5</text>
</g>
<g filter="url(#shb)">
<rect x="659.4" y="465.4" width="53.3" height="15.2" fill="#2d5d6d"/>
<rect x="659.4" y="480.6" width="53.3" height="15.2" fill="#1f7a93"/>
<rect x="659.4" y="465.4" width="53.3" height="30.4" fill="none" stroke="#92d050" stroke-width="1.1"/>
<line x1="659.4" x2="712.7" y1="480.6" y2="480.6" stroke="#92d050" stroke-width="1"/>
</g>
<g filter="url(#tsh)" font-size="10.9" font-weight="bold" fill="#fff" text-anchor="middle">
<text x="685.8" y="476.1">106,5%</text>
<text x="685.8" y="491.3">102,1%</text>
</g>
<g filter="url(#shb)">
<rect x="495.6" y="487.4" width="53.3" height="15.2" fill="#2d5d6d"/>
<rect x="495.6" y="502.6" width="53.3" height="15.2" fill="#1f7a93"/>
<rect x="495.6" y="487.4" width="53.3" height="30.4" fill="none" stroke="#92d050" stroke-width="1.1"/>
<line x1="495.6" x2="548.9" y1="502.6" y2="502.6" stroke="#92d050" stroke-width="1"/>
</g>
<g filter="url(#tsh)" font-size="10.9" font-weight="bold" fill="#fff" text-anchor="middle">
<text x="522.0" y="498.1">414,7</text>
<text x="522.0" y="513.3">397,5</text>
</g>
<g filter="url(#shb)">
<rect x="377.5" y="507.3" width="53.3" height="15.2" fill="#2d5d6d"/>
<rect x="377.5" y="522.5" width="53.3" height="15.2" fill="#1f7a93"/>
<rect x="377.5" y="507.3" width="53.3" height="30.4" fill="none" stroke="#92d050" stroke-width="1.1"/>
<line x1="377.5" x2="430.8" y1="522.5" y2="522.5" stroke="#92d050" stroke-width="1"/>
</g>
<g filter="url(#tsh)" font-size="10.9" font-weight="bold" fill="#fff" text-anchor="middle">
<text x="403.8" y="518.0">397,7</text>
<text x="403.8" y="533.2">372,9</text>
</g>
<g filter="url(#shb)">
<rect x="600.2" y="548.0" width="53.3" height="15.2" fill="#2d5d6d"/>
<rect x="600.2" y="563.2" width="53.3" height="15.2" fill="#1f7a93"/>
<rect x="600.2" y="548.0" width="53.3" height="30.4" fill="none" stroke="#92d050" stroke-width="1.1"/>
<line x1="600.2" x2="653.5" y1="563.2" y2="563.2" stroke="#92d050" stroke-width="1"/>
</g>
<g filter="url(#tsh)" font-size="10.9" font-weight="bold" fill="#fff" text-anchor="middle">
<text x="626.6" y="558.7">484,6</text>
<text x="626.6" y="573.9">418,0</text>
</g>
<g filter="url(#shb)">
<rect x="618.3" y="606.0" width="53.3" height="15.2" fill="#3a6979"/>
<rect x="618.3" y="621.2" width="53.3" height="15.2" fill="#1f7a93"/>
<rect x="618.3" y="606.0" width="53.3" height="30.4" fill="none" stroke="#92d050" stroke-width="1.1"/>
<line x1="618.3" x2="671.6" y1="621.2" y2="621.2" stroke="#92d050" stroke-width="1"/>
</g>
<g filter="url(#tsh)" font-size="10.9" font-weight="bold" fill="#fff" text-anchor="middle">
<text x="644.6" y="616.7">483,7</text>
<text x="644.6" y="631.9">447,0</text>
</g>
<g filter="url(#shb)">
<rect x="604.3" y="684.4" width="53.3" height="15.2" fill="url(#gTopR)"/>
<rect x="604.3" y="699.6" width="53.3" height="15.2" fill="url(#gBotR)"/>
<rect x="604.3" y="684.4" width="53.3" height="30.4" fill="none" stroke="#92d050" stroke-width="1.1"/>
<line x1="604.3" x2="657.6" y1="699.6" y2="699.6" stroke="#92d050" stroke-width="1"/>
</g>
<g filter="url(#tsh)" font-size="10.9" font-weight="bold" fill="#fff" text-anchor="middle">
<text x="630.6" y="695.1">722,4</text>
<text x="630.6" y="710.3">732,5</text>
</g>
<g filter="url(#shb)">
<rect x="423.7" y="605.6" width="53.3" height="15.2" fill="#336474"/>
<rect x="423.7" y="620.8" width="53.3" height="15.2" fill="#1f7a93"/>
<rect x="423.7" y="605.6" width="53.3" height="30.4" fill="none" stroke="#92d050" stroke-width="1.1"/>
<line x1="423.7" x2="477.0" y1="620.8" y2="620.8" stroke="#92d050" stroke-width="1"/>
</g>
<g filter="url(#tsh)" font-size="10.9" font-weight="bold" fill="#fff" text-anchor="middle">
<text x="450.0" y="616.3">376,9</text>
<text x="450.0" y="631.5">387,8</text>
</g>
<g filter="url(#shb)">
<rect x="367.2" y="619.4" width="53.3" height="15.2" fill="#336474"/>
<rect x="367.2" y="634.6" width="53.3" height="15.2" fill="url(#gBotG)"/>
<rect x="367.2" y="619.4" width="53.3" height="30.4" fill="none" stroke="#92d050" stroke-width="1.1"/>
<line x1="367.2" x2="420.5" y1="634.6" y2="634.6" stroke="#92d050" stroke-width="1"/>
</g>
<g filter="url(#tsh)" font-size="10.9" font-weight="bold" fill="#fff" text-anchor="middle">
<text x="393.5" y="630.1">387,7</text>
<text x="393.5" y="645.3">346,6</text>
</g>
<g filter="url(#shb)">
<rect x="477.2" y="657.3" width="53.3" height="15.2" fill="#2d5d6d"/>
<rect x="477.2" y="672.5" width="53.3" height="15.2" fill="url(#gBotG)"/>
<rect x="477.2" y="657.3" width="53.3" height="30.4" fill="none" stroke="#92d050" stroke-width="1.1"/>
<line x1="477.2" x2="530.5" y1="672.5" y2="672.5" stroke="#92d050" stroke-width="1"/>
</g>
<g filter="url(#tsh)" font-size="10.9" font-weight="bold" fill="#fff" text-anchor="middle">
<text x="503.5" y="668.0">410,3</text>
<text x="503.5" y="683.2">350,9</text>
</g>
<g filter="url(#shb)">
<rect x="328.2" y="693.5" width="53.3" height="15.2" fill="#336474"/>
<rect x="328.2" y="708.7" width="53.3" height="15.2" fill="#1f7a93"/>
<rect x="328.2" y="693.5" width="53.3" height="30.4" fill="none" stroke="#92d050" stroke-width="1.1"/>
<line x1="328.2" x2="381.5" y1="708.7" y2="708.7" stroke="#92d050" stroke-width="1"/>
</g>
<g filter="url(#tsh)" font-size="10.9" font-weight="bold" fill="#fff" text-anchor="middle">
<text x="354.5" y="704.2">535,0</text>
<text x="354.5" y="719.4">460,5</text>
</g>
<rect x="7.3" y="669.5" width="14" height="14" fill="#3a6979" stroke="#92d050" stroke-width="1"/>
<text x="27" y="680.7" font-size="10.4" font-style="italic" fill="#d0dce0" textLength="59" lengthAdjust="spacingAndGlyphs">Новое жильё</text>
<rect x="7.3" y="687.3" width="14" height="14" fill="#1f7a93" stroke="#92d050" stroke-width="1"/>
<text x="27" y="698.5" font-size="10.4" font-style="italic" fill="#d0dce0" textLength="189" lengthAdjust="spacingAndGlyphs">Перепродажа в благоустроенном жилье</text>
<rect x="7.3" y="705.3" width="14" height="14" fill="#c00000" stroke="#fff" stroke-width="1"/>
<text x="27" y="716.5" font-size="10.4" font-style="italic" fill="#d0dce0" textLength="139" lengthAdjust="spacingAndGlyphs">— самые высокие показатели</text>
<rect x="7.3" y="723.2" width="14" height="14" fill="#92d050" stroke="#fff" stroke-width="1"/>
<text x="27" y="734.4" font-size="10.4" font-style="italic" fill="#d0dce0" textLength="133" lengthAdjust="spacingAndGlyphs">— самые низкие показатели</text>
<g font-size="12" font-weight="normal" font-style="italic" fill="#92d050">
<text x="10.1" y="761.2" textLength="53.7" lengthAdjust="spacingAndGlyphs">Источник:</text>
<text x="68.2" y="761.2" textLength="26.0" lengthAdjust="spacingAndGlyphs">Бюро</text>
<text x="97.9" y="761.2" textLength="71.3" lengthAdjust="spacingAndGlyphs">национальной</text>
<text x="173.9" y="761.2" textLength="68.0" lengthAdjust="spacingAndGlyphs">статистики</text>
<text x="245.5" y="761.2" textLength="33.1" lengthAdjust="spacingAndGlyphs">АСПиР</text>
<text x="282.3" y="761.2" textLength="12.8" lengthAdjust="spacingAndGlyphs">РК</text>
</g>
<g fill="#fff">
<path d="M733.4 749.6 L743.8 749.3 L740.8 763 L729.3 763.8 Z" opacity="0.45"/>
<path d="M733.9 749.1 Q734.4 749 735.2 749 L744.4 749 L743.2 752.3 Q737 752.3 731.4 753.2 Q732.2 750.2 733.9 749.1 Z"/>
<path d="M731.6 754.1 Q737 753.6 742.9 753.6 L741.9 756.8 Q735.5 757 730.1 758.1 Q730.6 755.5 731.6 754.1 Z"/>
<path d="M730.5 759.3 Q736 758.2 742.4 758.2 L741.2 762.4 Q734 762.6 729.2 764.2 Q729.4 761.2 730.5 759.3 Z"/>
<text x="745.5" y="762.7" font-size="12.3" font-style="italic" font-weight="bold" textLength="36" lengthAdjust="spacingAndGlyphs">Energy</text>
<text x="781.5" y="762.7" font-size="12.3" font-style="italic" textLength="26" lengthAdjust="spacingAndGlyphs">Prom</text>
</g>
</svg></body></html>
